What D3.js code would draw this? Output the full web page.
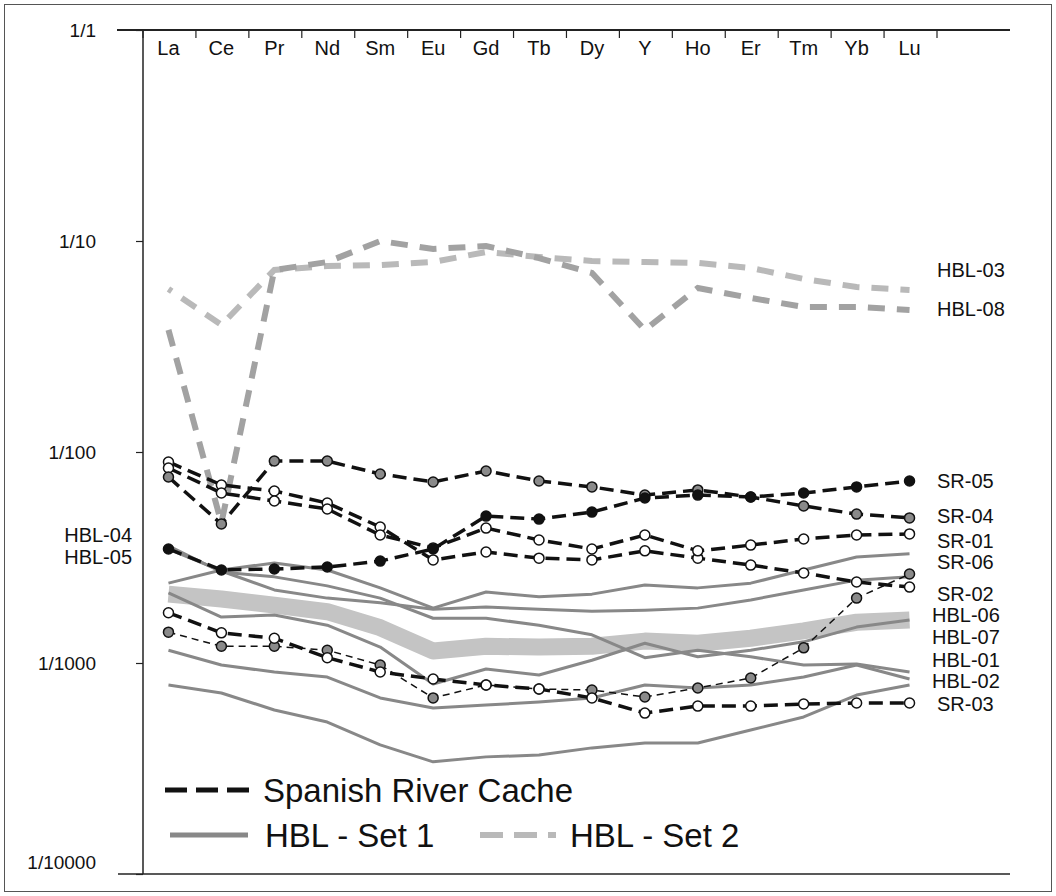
<!DOCTYPE html>
<html>
<head>
<meta charset="utf-8">
<script src="https://cdn.jsdelivr.net/npm/d3@7"></script>
<style>
  body { margin: 0; background: #fff; }
  svg { display: block; }
  text { font-family: "Liberation Sans", Arial, Helvetica, sans-serif; fill: #111; }
</style>
</head>
<body>
<svg id="chart" width="1056" height="896"></svg>
<script>
// Rare-earth element order along the top axis
const categories = ["La","Ce","Pr","Nd","Sm","Eu","Gd","Tb","Dy","Y","Ho","Er","Tm","Yb","Lu"];

// Log axis tick values and their fraction labels
const yTickValues = [1, 0.1, 0.01, 0.001, 0.0001];
const yTickLabels = ["1/1", "1/10", "1/100", "1/1000", "1/10000"];

// Spanish River Cache samples (normalised abundance)
const sr05 = [0.00347,0.00276,0.00279,0.00285,0.00304,0.00347,0.00497,0.00481,0.00519,0.00605,0.00625,0.00612,0.00639,0.00683,0.00729];
const sr04 = [0.00761,0.00456,0.00906,0.00906,0.00787,0.00721,0.00813,0.00729,0.00683,0.00625,0.00661,0.00612,0.00555,0.00508,0.00487];
const sr01 = [0.00840,0.00639,0.00586,0.00537,0.00404,0.00351,0.00436,0.00383,0.00347,0.00404,0.00340,0.00362,0.00387,0.00404,0.00409];
const sr02 = [0.00897,0.00698,0.00653,0.00573,0.00441,0.00308,0.00336,0.00314,0.00308,0.00340,0.00314,0.00291,0.00267,0.00242,0.00229];
const sr06 = [0.00140,0.00120,0.00120,0.00115,0.000978,0.000683,0.000787,0.000753,0.000745,0.000690,0.000761,0.000849,0.00118,0.00203,0.00264];
const sr03 = [0.00173,0.00139,0.00131,0.00106,0.000906,0.000840,0.000787,0.000753,0.000683,0.000579,0.000625,0.000625,0.000639,0.000646,0.000646];

// HBL - Set 1 samples
const hblSet1A = [0.00239,0.00276,0.00298,0.00276,0.00227,0.00182,0.00217,0.00206,0.00212,0.00234,0.00227,0.00239,0.00276,0.00318,0.00329];
const hblSet1B = [0.00347,0.00273,0.00222,0.00203,0.00193,0.00180,0.00184,0.00180,0.00176,0.00178,0.00182,0.00199,0.00222,0.00247,0.00256];
const hblSet1C = [0.00359,0.00270,0.00256,0.00232,0.00203,0.00163,0.00163,0.00151,0.00136,0.00106,0.00115,0.00107,0.000978,0.000989,0.000906];
const hblSet1D = [0.00215,0.00165,0.00169,0.00151,0.00119,0.000795,0.000937,0.000877,0.00103,0.00124,0.00107,0.00115,0.00126,0.00148,0.00160];
const hblSet1E = [0.00115,0.000978,0.000906,0.000858,0.000683,0.000612,0.000632,0.000653,0.000683,0.000787,0.000761,0.000787,0.000858,0.000978,0.000840];
const hblSet1F = [0.000787,0.000721,0.000599,0.000525,0.000409,0.000340,0.000359,0.000366,0.000396,0.000418,0.000418,0.000481,0.000555,0.000705,0.000787];
const hblSet1Wide = [0.00212,0.00201,0.00188,0.00175,0.00147,0.00114,0.00120,0.00119,0.00120,0.00127,0.00124,0.00131,0.00142,0.00156,0.00160];

// HBL - Set 2 samples
const hbl03 = [0.0592,0.0400,0.0729,0.0761,0.0769,0.0795,0.0887,0.0840,0.0804,0.0795,0.0787,0.0745,0.0661,0.0605,0.0586];
const hbl08 = [0.0379,0.00461,0.0729,0.0795,0.1000,0.0917,0.0947,0.0830,0.0705,0.0379,0.0599,0.0537,0.0487,0.0487,0.0471];

// Sample name tags, anchored at an abundance level
const rightTags = [
  { text: "HBL-03", at: 0.0729 }, { text: "HBL-08", at: 0.0476 },
  { text: "SR-05", at: 0.00729 }, { text: "SR-04", at: 0.00497 },
  { text: "SR-01", at: 0.00379 }, { text: "SR-06", at: 0.00301 },
  { text: "SR-02", at: 0.00212 }, { text: "HBL-06", at: 0.00169, inset: true },
  { text: "HBL-07", at: 0.00133, inset: true }, { text: "HBL-01", at: 0.00103, inset: true },
  { text: "HBL-02", at: 0.000822, inset: true }, { text: "SR-03", at: 0.000639 }
];
const leftTags = [ { text: "HBL-04", at: 0.00404 }, { text: "HBL-05", at: 0.00318 } ];

const svg = d3.select("#chart");

// Outer frame
svg.append("rect").attr("x", 4.5).attr("y", 4.5).attr("width", 1047).attr("height", 887)
  .attr("fill", "none").attr("stroke", "#555").attr("stroke-width", 1);

const y = d3.scaleLog().domain([1e-4, 1]).range([874, 30]);
const x = d3.scaleBand().domain(categories).range([142, 936]).padding(0);
const cx = c => x(c) + x.bandwidth() / 2;

const line = d3.line().x((d, i) => cx(categories[i])).y(d => y(d));

// Axes
const axisG = svg.append("g").attr("stroke", "#222");
axisG.append("line").attr("x1", 143).attr("x2", 143).attr("y1", 30).attr("y2", 874).attr("stroke-width", 1.5);
axisG.append("line").attr("x1", 117).attr("x2", 1010).attr("y1", y(1)).attr("y2", y(1)).attr("stroke-width", 2);
axisG.append("line").attr("x1", 118).attr("x2", 1010).attr("y1", y(1e-4)).attr("y2", y(1e-4)).attr("stroke-width", 1.5);

// Top category ticks sit on band boundaries
const edges = categories.map(c => x(c)).concat([x.range()[1]]);
axisG.selectAll("line.tt").data(edges).join("line").attr("class", "tt")
  .attr("x1", d => d + 1).attr("x2", d => d + 1).attr("y1", 30).attr("y2", 38).attr("stroke-width", 1.2);

svg.append("g").selectAll("text").data(categories).join("text")
  .attr("x", d => cx(d)).attr("y", 55).attr("text-anchor", "middle")
  .attr("font-size", 20).text(d => d);

// Left log axis
const yAxis = d3.axisLeft(y).tickValues(yTickValues).tickSize(7).tickPadding(40)
  .tickFormat((d, i) => yTickLabels[i]);
const yG = svg.append("g").attr("transform", "translate(143,0)").call(yAxis);
yG.select(".domain").remove();
yG.selectAll(".tick line").attr("stroke", "#222").attr("stroke-width", 1.2);
yG.selectAll(".tick text").attr("font-size", 19).attr("fill", "#111")
  .attr("font-family", "Liberation Sans, Arial, sans-serif")
  .attr("dy", d => d === 1e-4 ? "-0.3em" : "0.32em");

// HBL - Set 1: wide envelope plus individual lines
const set1 = svg.append("g").attr("fill", "none");
set1.append("path").datum(hblSet1Wide).attr("d", line)
  .attr("stroke", "#c4c4c4").attr("stroke-width", 17).attr("stroke-linejoin", "round");
set1.selectAll("path.s1").data([hblSet1A, hblSet1B, hblSet1C, hblSet1D, hblSet1E, hblSet1F]).join("path")
  .attr("class", "s1").attr("d", line)
  .attr("stroke", "#888").attr("stroke-width", 3).attr("stroke-linejoin", "round");

// HBL - Set 2 dashed lines
const set2 = svg.append("g").attr("fill", "none");
set2.append("path").datum(hbl03).attr("d", line)
  .attr("stroke", "#b9b9b9").attr("stroke-width", 6)
  .attr("stroke-dasharray", "17,12").attr("stroke-dashoffset", 13);
set2.append("path").datum(hbl08).attr("d", line)
  .attr("stroke", "#a2a2a2").attr("stroke-width", 6).attr("stroke-dasharray", "17,12");

// Spanish River Cache lines and markers
const srSeries = [
  { values: sr06, fill: "#8a8a8a", width: 1.5, dash: "7,5" },
  { values: sr03, fill: "#fff", width: 3.5, dash: "14,7" },
  { values: sr02, fill: "#fff", width: 3.5, dash: "14,7" },
  { values: sr01, fill: "#fff", width: 3.5, dash: "14,7" },
  { values: sr04, fill: "#8a8a8a", width: 3.5, dash: "14,7" },
  { values: sr05, fill: "#111", width: 3.5, dash: "14,7" }
];
const srG = svg.append("g");
srSeries.forEach(s => {
  srG.append("path").datum(s.values).attr("d", line).attr("fill", "none")
    .attr("stroke", "#111").attr("stroke-width", s.width).attr("stroke-dasharray", s.dash);
  srG.append("g").selectAll("circle").data(s.values).join("circle")
    .attr("cx", (d, i) => cx(categories[i])).attr("cy", d => y(d)).attr("r", 5)
    .attr("fill", s.fill).attr("stroke", "#111").attr("stroke-width", 1.5);
});

// Sample tags
svg.append("g").selectAll("text").data(rightTags).join("text")
  .attr("x", d => d.inset ? 932 : 937).attr("y", d => y(d.at)).attr("dy", "0.35em")
  .attr("font-size", 20).text(d => d.text);
svg.append("g").selectAll("text").data(leftTags).join("text")
  .attr("x", 132).attr("y", d => y(d.at)).attr("dy", "0.35em").attr("text-anchor", "end")
  .attr("font-size", 20).text(d => d.text);

// Legend
const lg = svg.append("g");
lg.append("line").attr("x1", 165).attr("x2", 250).attr("y1", 790).attr("y2", 790)
  .attr("stroke", "#111").attr("stroke-width", 5).attr("stroke-dasharray", "22,9");
lg.append("text").attr("x", 263).attr("y", 802).attr("font-size", 33).text("Spanish River Cache");
lg.append("line").attr("x1", 170).attr("x2", 248).attr("y1", 835).attr("y2", 835)
  .attr("stroke", "#888").attr("stroke-width", 5);
lg.append("text").attr("x", 265).attr("y", 847).attr("font-size", 33).text("HBL - Set 1");
lg.append("line").attr("x1", 480).attr("x2", 556).attr("y1", 835).attr("y2", 835)
  .attr("stroke", "#b9b9b9").attr("stroke-width", 6).attr("stroke-dasharray", "23,11");
lg.append("text").attr("x", 570).attr("y", 847).attr("font-size", 33).text("HBL - Set 2");
</script>
</body>
</html>
